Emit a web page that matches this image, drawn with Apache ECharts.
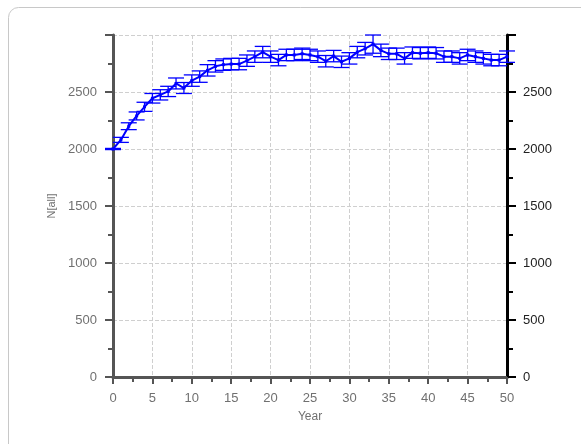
<!DOCTYPE html>
<html>
<head>
<meta charset="utf-8">
<script src="https://cdn.jsdelivr.net/npm/echarts@6/dist/echarts.min.js"></script>
<style>html,body{margin:0;padding:0;background:#fff;}#c{width:581px;height:444px;}</style>
</head>
<body>
<div id="c"></div>
<script>
const years = [0,1,2,3,4,5,6,7,8,9,10,11,12,13,14,15,16,17,18,19,20,21,22,23,24,25,26,27,28,29,30,31,32,33,34,35,36,37,38,39,40,41,42,43,44,45,46,47,48,49,50];
const values = [2000,2080,2200,2290,2370,2445,2475,2505,2575,2535,2600,2635,2690,2725,2740,2745,2745,2775,2810,2850,2810,2780,2825,2825,2835,2825,2810,2770,2815,2765,2795,2850,2880,2920,2865,2835,2835,2795,2845,2840,2845,2840,2810,2810,2795,2825,2810,2795,2780,2780,2810];
const errors = [5,22,30,35,40,42,45,45,48,48,50,50,50,50,50,50,50,50,50,50,50,50,50,50,50,50,50,50,50,50,50,50,55,80,55,50,50,50,50,50,50,50,50,50,50,50,50,50,50,50,50];
const yTicks = [0,500,1000,1500,2000,2500];

const lineData = years.map((y,i)=>[y, values[i]]);
const errData = years.map((y,i)=>[y, values[i]-errors[i], values[i]+errors[i]]);

const FONT = 'Liberation Sans, Arial, sans-serif';
const chart = echarts.init(document.getElementById('c'), null, {renderer:'canvas'});
const labelStyle = {color:'#707070', fontSize:13, fontFamily:FONT};
chart.setOption({
  animation:false,
  backgroundColor:'#fff',
  graphic:[{type:'rect', shape:{x:8.5,y:7.5,width:640,height:520,r:10}, style:{fill:'none', stroke:'#c8c8c8', lineWidth:1}, z:-1}],
  grid:{left:113, right:74, top:35, bottom:67},
  xAxis:{
    type:'value', min:0, max:50, interval:5,
    name:'Year', nameLocation:'middle', nameGap:34,
    nameTextStyle:{color:'#707070', fontSize:12, fontFamily:FONT},
    axisLine:{show:true, onZero:false, lineStyle:{color:'#555', width:3}},
    axisTick:{show:true, length:7, lineStyle:{color:'#555', width:2}},
    minorTick:{show:true, splitNumber:2, length:5, lineStyle:{color:'#555', width:2}},
    axisLabel:{...labelStyle, margin:15},
    splitLine:{show:true, lineStyle:{color:'#cfcfcf', type:'dashed', width:1}}
  },
  yAxis:[{
    type:'value', min:0, max:3000, interval:500, position:'left',
    name:'N[all]', nameLocation:'middle', nameGap:55, nameRotate:90,
    nameTextStyle:{color:'#707070', fontSize:11, fontFamily:FONT},
    axisLine:{show:true, lineStyle:{color:'#555', width:3}},
    axisTick:{show:true, length:8, lineStyle:{color:'#555', width:2}},
    minorTick:{show:true, splitNumber:2, length:5, lineStyle:{color:'#555', width:2}},
    axisLabel:{...labelStyle, margin:16, formatter:v=>yTicks.includes(v)?String(v):''},
    splitLine:{show:true, lineStyle:{color:'#cfcfcf', type:'dashed', width:1}}
  },{
    type:'value', min:0, max:3000, interval:500, position:'right',
    axisLine:{show:true, lineStyle:{color:'#000', width:3}},
    axisTick:{show:true, length:9, lineStyle:{color:'#000', width:2}},
    minorTick:{show:true, splitNumber:2, length:6, lineStyle:{color:'#000', width:2}},
    axisLabel:{color:'#222', fontSize:13, fontFamily:FONT, margin:16, formatter:v=>yTicks.includes(v)?String(v):''},
    splitLine:{show:false}
  }],
  series:[{
    type:'custom',
    data:errData,
    renderItem:function(params, api){
      const x = api.value(0);
      const lo = api.coord([x, api.value(1)]);
      const hi = api.coord([x, api.value(2)]);
      const hw = 8;
      const st = {stroke:'#0000ff', lineWidth:1.3};
      return {type:'group', children:[
        {type:'line', shape:{x1:lo[0],y1:lo[1],x2:hi[0],y2:hi[1]}, style:st},
        {type:'line', shape:{x1:lo[0]-hw,y1:lo[1],x2:lo[0]+hw,y2:lo[1]}, style:st},
        {type:'line', shape:{x1:hi[0]-hw,y1:hi[1],x2:hi[0]+hw,y2:hi[1]}, style:st}
      ]};
    },
    z:3
  },{
    type:'line',
    data:lineData,
    symbol:'rect', symbolSize:3, showSymbol:true,
    itemStyle:{color:'#0000ff'},
    lineStyle:{color:'#0000ff', width:2},
    z:4
  }]
});
</script>
</body>
</html>
